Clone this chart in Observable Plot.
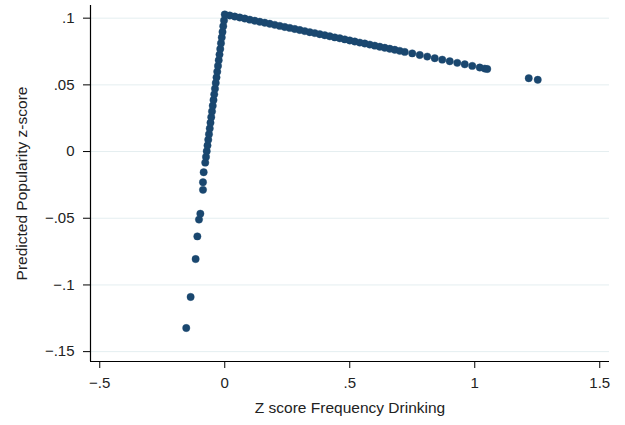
<!DOCTYPE html>
<html>
<head>
<meta charset="utf-8">
<script src="https://cdn.jsdelivr.net/npm/d3@7"></script>
<script src="https://cdn.jsdelivr.net/npm/@observablehq/plot@0.6"></script>
<style>
  html, body { margin: 0; padding: 0; background: #fff; }
  #chart { width: 625px; height: 425px; }
</style>
</head>
<body>
<div id="chart"></div>
<script>
// Data
const drinkX = [
  -0.154, -0.1365, -0.1165, -0.1096, -0.103, -0.0976, -0.087, -0.087, -0.0843,
  -0.078, -0.075, -0.072, -0.069, -0.066, -0.063, -0.060, -0.057, -0.054, -0.051,
  -0.048, -0.045, -0.042, -0.039, -0.036, -0.033, -0.030, -0.027, -0.024, -0.021,
  -0.018, -0.015, -0.012, -0.009, -0.006, -0.003, 0.000,
  0.02, 0.04, 0.06, 0.08, 0.10, 0.12, 0.14, 0.16, 0.18, 0.20, 0.22, 0.24, 0.26,
  0.28, 0.30, 0.32, 0.34, 0.36, 0.38, 0.40, 0.42, 0.44, 0.46, 0.48, 0.50, 0.52,
  0.54, 0.56, 0.58, 0.60, 0.62, 0.64, 0.66, 0.68, 0.70, 0.72,
  0.75, 0.78, 0.81, 0.84, 0.87, 0.90, 0.93, 0.96, 0.99, 1.02, 1.04, 1.05,
  1.216, 1.252
];
const popularityY = [
  -0.1323, -0.109, -0.0806, -0.0636, -0.051, -0.0466, -0.0287, -0.023, -0.0155,
  -0.0083, -0.0040, 0.0003, 0.0045, 0.0088, 0.0130, 0.0173, 0.0216, 0.0258, 0.0301,
  0.0343, 0.0386, 0.0429, 0.0471, 0.0514, 0.0556, 0.0599, 0.0642, 0.0684, 0.0727,
  0.0769, 0.0812, 0.0855, 0.0897, 0.0940, 0.0982, 0.1028,
  0.1020, 0.1012, 0.1005, 0.0997, 0.0989, 0.0981, 0.0973, 0.0966, 0.0958, 0.0950,
  0.0942, 0.0934, 0.0927, 0.0919, 0.0911, 0.0903, 0.0895, 0.0888, 0.0880, 0.0872,
  0.0864, 0.0856, 0.0849, 0.0841, 0.0833, 0.0825, 0.0817, 0.0810, 0.0802, 0.0794,
  0.0786, 0.0778, 0.0771, 0.0763, 0.0755, 0.0747,
  0.0736, 0.0724, 0.0712, 0.0700, 0.0689, 0.0677, 0.0665, 0.0654, 0.0642, 0.0630,
  0.0622, 0.0619,
  0.0550, 0.0538
];
const xTicks = [-0.5, 0, 0.5, 1, 1.5];
const yTicks = [-0.15, -0.1, -0.05, 0, 0.05, 0.1];
const xTitle = "Z score Frequency Drinking";
const yTitle = "Predicted Popularity z-score";

const data = drinkX.map((x, i) => ({x, y: popularityY[i]}));

const xDomain = [-0.537, 1.539];
const yDomain = [-0.1574, 0.1095];

function stataFmt(d) {
  if (d === 0) return "0";
  const s = String(Math.round(Math.abs(d) * 1000) / 1000).replace(/^0\./, ".");
  return (d < 0 ? "\u2212" : "") + s;
}

const font = "'Liberation Sans', Arial, Helvetica, sans-serif";

const chart = Plot.plot({
  width: 625,
  height: 425,
  marginLeft: 90,
  marginTop: 5,
  marginRight: 16,
  marginBottom: 64,
  style: {fontFamily: font, background: "#fff", color: "#222"},
  x: {domain: xDomain},
  y: {domain: yDomain},
  marks: [
    Plot.gridY(yTicks, {stroke: "#e4eef0", strokeOpacity: 1, strokeWidth: 1}),
    Plot.dot(data, {x: "x", y: "y", r: 3.7, fill: "#1a476f", stroke: "#1a476f", strokeWidth: 0.4}),
    Plot.ruleX([xDomain[0]], {stroke: "#000", strokeWidth: 1.2}),
    Plot.ruleY([yDomain[0]], {stroke: "#000", strokeWidth: 1.2}),
    Plot.axisY(yTicks, {tickSize: 7, tickPadding: 9, fontSize: 15, tickFormat: stataFmt, label: null, stroke: "#000", color: "#222"}),
    Plot.axisX(xTicks, {tickSize: 7, tickPadding: 9, fontSize: 15, tickFormat: stataFmt, label: null, stroke: "#000", color: "#222"}),
    Plot.text([xTitle], {frameAnchor: "bottom", dy: 51, fontSize: 15.5, fill: "#222", text: d => d}),
    Plot.text([yTitle], {frameAnchor: "left", dx: -68, rotate: -90, textAnchor: "middle", fontSize: 15.5, fill: "#222", text: d => d})
  ]
});
document.getElementById("chart").append(chart);
</script>
</body>
</html>
